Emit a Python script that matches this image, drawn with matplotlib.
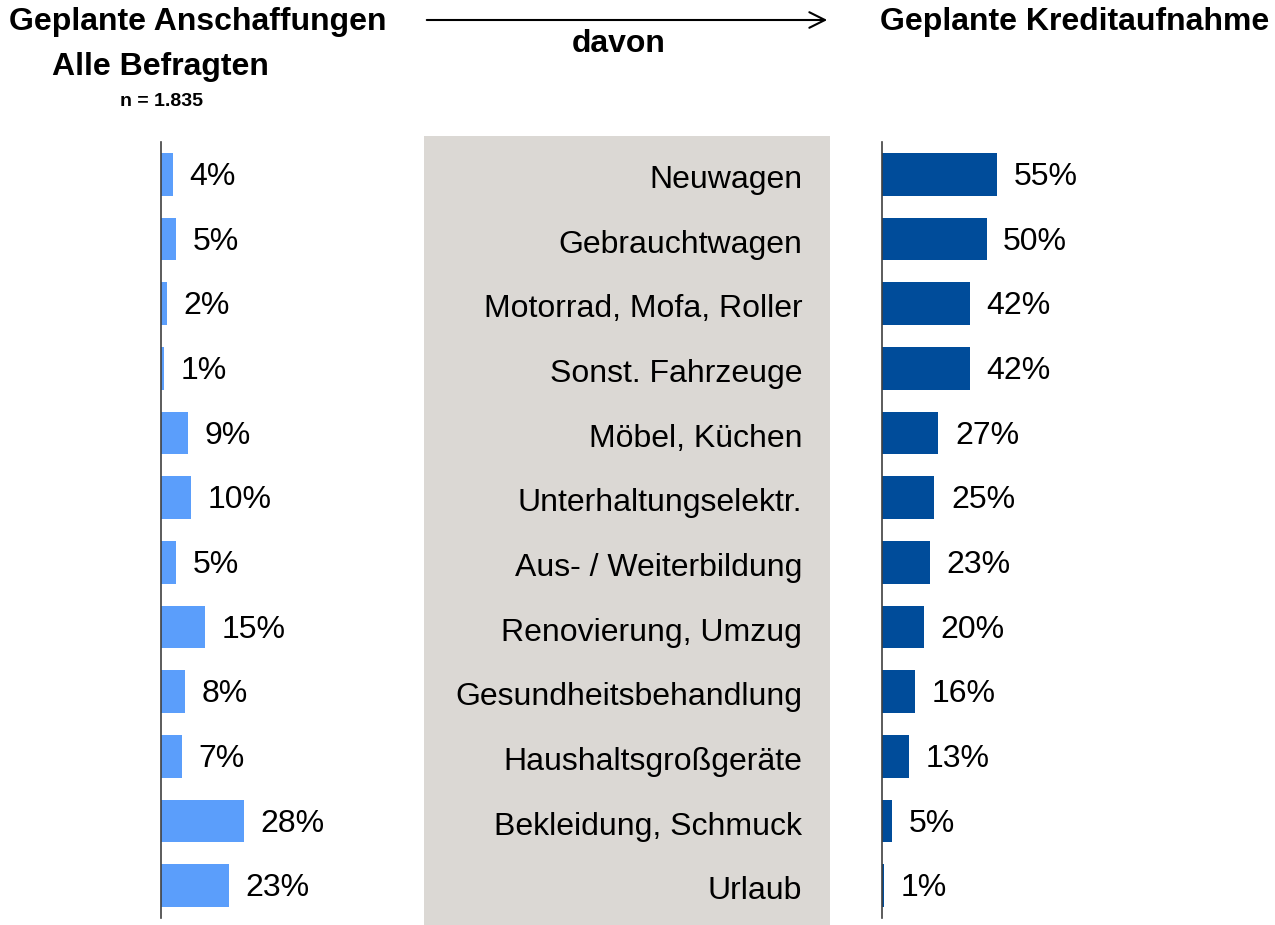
import matplotlib
matplotlib.use("Agg")
import matplotlib.pyplot as plt
from matplotlib.patches import Rectangle, FancyArrowPatch

plt.rcParams['font.family'] = ['Liberation Sans', 'DejaVu Sans']

categories = ["Neuwagen", "Gebrauchtwagen", "Motorrad, Mofa, Roller", "Sonst. Fahrzeuge",
              "Möbel, Küchen", "Unterhaltungselektr.", "Aus- / Weiterbildung",
              "Renovierung, Umzug", "Gesundheitsbehandlung", "Haushaltsgroßgeräte",
              "Bekleidung, Schmuck", "Urlaub"]
anschaffung = [4, 5, 2, 1, 9, 10, 5, 15, 8, 7, 28, 23]
kredit = [55, 50, 42, 42, 27, 25, 23, 20, 16, 13, 5, 1]

W, H = 1275, 925


def rect(x0, y0, x1, y1):
    # pixel box (top-left origin) -> figure fraction
    return [x0 / W, (H - y1) / H, (x1 - x0) / W, (y1 - y0) / H]


fig = plt.figure(figsize=(W / 100, H / 100), dpi=100)

# gray box behind the category names
fig.patches.append(Rectangle((424 / W, 0), (830 - 424) / W, (925 - 136) / H,
                             transform=fig.transFigure, facecolor='#dbd8d4',
                             edgecolor='none', zorder=-5))

ax_l = fig.add_axes(rect(161, 142, 161 + 148, 918))
ax_r = fig.add_axes(rect(882, 142, 882 + 209, 918))
ax_m = fig.add_axes(rect(424, 142, 830, 918))

ypos = list(range(len(categories)))


def style(ax, xmax):
    ax.set_xlim(0, xmax)
    ax.set_ylim(len(categories) - 0.5, -0.5)
    ax.set_facecolor('none')
    for s in ['top', 'right', 'bottom']:
        ax.spines[s].set_visible(False)
    ax.spines['left'].set_color('#404040')
    ax.spines['left'].set_linewidth(1.2)
    ax.set_xticks([])
    ax.set_yticks([])


style(ax_l, 50)
style(ax_r, 100)

ax_l.barh(ypos, anschaffung, height=0.66, color='#5b9efb', edgecolor='none')
ax_r.barh(ypos, kredit, height=0.66, color='#004c9a', edgecolor='none')

for ax, vals in [(ax_l, anschaffung), (ax_r, kredit)]:
    for y, v in zip(ypos, vals):
        ax.annotate(f"{v}%", (v, y), xytext=(12, -2), textcoords='offset points',
                    ha='left', va='center', fontsize=23)

ax_m.set_xlim(0, 1)
ax_m.set_ylim(len(categories) - 0.5, -0.5)
ax_m.axis('off')
for y, c in zip(ypos, categories):
    ax_m.annotate(c, (1, y), xytext=(-20, -4), textcoords='offset points',
                  ha='right', va='center', fontsize=23)

# headers
fig.text(198 / W, 1 - 22 / H, "Geplante Anschaffungen", ha='center', va='center',
         fontsize=23, fontweight='bold')
fig.text(160 / W, 1 - 67 / H, "Alle Befragten", ha='center', va='center',
         fontsize=23, fontweight='bold')
fig.text(162 / W, 1 - 101 / H, "n = 1.835", ha='center', va='center',
         fontsize=14, fontweight='bold')
fig.text(619 / W, 1 - 44 / H, "davon", ha='center', va='center',
         fontsize=23, fontweight='bold')
fig.text(1075 / W, 1 - 22 / H, "Geplante Kreditaufnahme", ha='center', va='center',
         fontsize=23, fontweight='bold')

fig.patches.append(FancyArrowPatch((424 / W, 1 - 20 / H), (830 / W, 1 - 20 / H),
                                   transform=fig.transFigure, arrowstyle='->',
                                   mutation_scale=28, lw=1.5, color='black'))

fig.savefig("out.png", dpi=100)
